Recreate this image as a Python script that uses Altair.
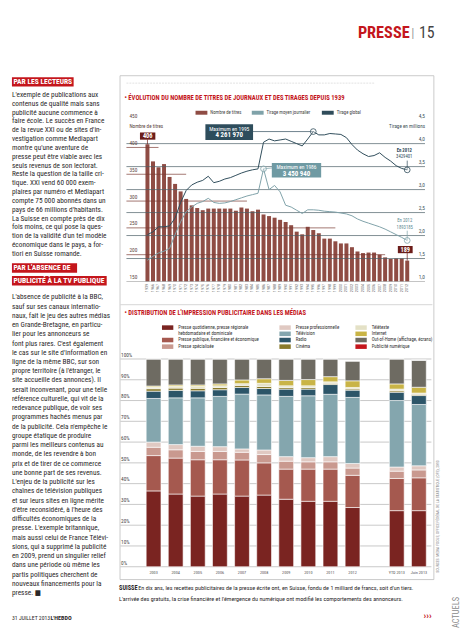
import altair as alt
import pandas as pd

# ---------------- data : chart 1 (titres et tirages) ----------------
years = ["1939", "1966", "1967", "1968", "1969", "1970", "1971", "1972", "1973", "1974",
         "1975", "1976", "1977", "1978", "1979", "1980", "1981", "1982", "1983", "1984",
         "1985", "1986", "1987", "1988", "1989", "1990", "1991", "1992", "1993", "1994",
         "1995", "1996", "1997", "1998", "1999", "2000", "2001", "2002", "2003", "2004",
         "2005", "2006", "2007", "2008", "2009", "2010", "2011", "2012"]
titres = [406, 374, 363, 369, 345, 332, 318, 304, 292, 287,
          283, 286, 286, 286, 286, 286, 282, 288, 286, 281,
          284, 275, 272, 269, 265, 261, 255, 243, 238, 252,
          246, 240, 230, 230, 225, 221, 221, 214, 206, 203,
          204, 204, 200, 195, 192, 193, 193, 189]
tirage_moyen = [1.46, 1.55, 1.62, 1.66, 1.72, 2.02, 2.30, 2.52, 2.62, 2.70,
                2.74, 2.81, 2.72, 2.70, 2.71, 2.74, 2.78, 2.82, 2.86, 2.89,
                2.92, 3.451, 3.00, 3.09, 2.95, 2.66, 2.62, 2.55, 2.48, 2.56,
                2.56, 2.55, 2.53, 2.52, 2.51, 2.49, 2.47, 2.43, 2.36, 2.31,
                2.27, 2.23, 2.19, 2.14, 2.08, 2.02, 1.96, 1.893]
tirage_global = [2.02, 2.08, 2.19, 2.19, 2.21, 2.38, 2.72, 2.98, 3.10, 3.16,
                 3.20, 3.29, 3.15, 3.18, 3.23, 3.26, 3.31, 3.36, 3.40, 3.43,
                 3.45, 4.03, 4.10, 4.06, 4.08, 4.10, 4.05, 4.00, 3.95, 4.10,
                 4.262, 4.19, 4.19, 4.22, 4.21, 4.20, 4.13, 3.98, 3.86, 3.78,
                 3.72, 3.74, 3.80, 3.70, 3.62, 3.52, 3.46, 3.429]
left_ticks = [150, 200, 250, 300, 350, 400, 450]
left_tick_labels = ["150", "200", "250", "300", "350", "400", "450"]
right_ticks = [1.0, 1.5, 2.0, 2.5, 3.0, 3.5, 4.0, 4.5]
right_tick_labels = ["1,0", "1,5", "2,0", "2,5", "3,0", "3,5", "4,0", "4,5"]
full_rule_ticks = [1.5, 2.0, 2.5, 3.0, 3.5, 4.0]
short_rule_ticks = [400, 350, 300, 250, 200]
short_rule_until = ["1967", "1972", "1983", "1999", "2008"]
series_names = ["Nombre de titres", "Tirage moyen journalier", "Tirage global"]

# ---------------- data : chart 2 (distribution publicitaire) ----------------
periods = ["2003", "2004", "2005", "2006", "2007", "2008", "2009", "2010", "2011", "2012",
           "YTD 2013", "Juin 2013"]
pct_ticks = [0, 10, 20, 30, 40, 50, 60, 70, 80, 90, 100]
pct_labels = ["0%", "10%", "20%", "30%", "40%", "50%", "60%", "70%", "80%", "90%", "100%"]
media = ["Presse quotidienne, presse régionale hebdomadaire et dominicale",
         "Presse publique, financière et économique",
         "Presse spécialisée",
         "Presse professionnelle",
         "Télévision",
         "Radio",
         "Cinéma",
         "Télétexte",
         "Internet",
         "Out-of-Home (affichage, écrans)",
         "Publicité numérique"]
presse_quotidienne = [36.5, 35.0, 34.0, 35.0, 34.0, 34.5, 32.5, 31.5, 31.5, 28.5, 27.0, 27.0]
presse_publique = [17.0, 17.3, 17.5, 16.5, 17.4, 15.5, 14.5, 15.5, 15.5, 15.5, 15.5, 15.8]
presse_specialisee = [4.0, 4.0, 4.0, 4.0, 3.7, 4.0, 3.8, 3.5, 3.5, 3.5, 3.5, 3.8]
presse_professionnelle = [2.5, 2.5, 2.5, 2.3, 1.6, 2.2, 2.2, 2.0, 2.5, 2.2, 2.0, 2.0]
television = [21.0, 22.5, 23.3, 24.2, 26.4, 26.5, 29.0, 29.8, 30.0, 31.8, 32.0, 29.5]
radio = [3.5, 3.6, 3.4, 3.2, 3.2, 3.1, 3.5, 3.2, 4.7, 3.5, 4.0, 4.3]
cinema = [1.2, 1.1, 1.2, 1.1, 1.0, 1.0, 0.8, 0.8, 0.6, 0.6, 0.7, 0.6]
teletexte = [0.8, 0.8, 0.9, 0.8, 0.8, 1.5, 0.8, 0.8, 0.7, 0.7, 0.8, 0.6]
internet = [0.5, 0.7, 0.7, 0.9, 1.8, 2.2, 2.6, 3.0, 2.5, 3.2, 2.5, 2.8]
out_of_home = [13.0, 12.5, 12.5, 12.0, 10.1, 9.5, 10.3, 9.9, 8.5, 9.5, 12.0, 13.0]
publicite_numerique = [0, 0, 0, 0, 0, 0, 0, 0, 0, 0, 0, 0]

# ---------------- page text ----------------
para1_lines = [
    "L'exemple de publications aux",
    "contenus de qualité mais sans",
    "publicité aucune commence à",
    "faire école. Le succès en France",
    "de la revue XXI ou de sites d'in-",
    "vestigation comme Mediapart",
    "montre qu'une aventure de",
    "presse peut être viable avec les",
    "seuls revenus de son lectorat.",
    "Reste la question de la taille cri-",
    "tique. XXI vend 60 000 exem-",
    "plaires par numéro et Mediapart",
    "compte 75 000 abonnés dans un",
    "pays de 66 millions d'habitants.",
    "La Suisse en compte près de dix",
    "fois moins, ce qui pose la ques-",
    "tion de la validité d'un tel modèle",
    "économique dans le pays, a for-",
    "tiori en Suisse romande.",
]
para2_lines = [
    "L'absence de publicité à la BBC,",
    "sauf sur ses canaux internatio-",
    "naux, fait le jeu des autres médias",
    "en Grande-Bretagne, en particu-",
    "lier pour les annonceurs se",
    "font plus rares. C'est également",
    "le cas sur le site d'information en",
    "ligne de la même BBC, sur son",
    "propre territoire (à l'étranger, le",
    "site accueille des annonces). Il",
    "serait inconvenant, pour une telle",
    "référence culturelle, qui vit de la",
    "redevance publique, de voir ses",
    "programmes hachés menus par",
    "de la publicité. Cela n'empêche le",
    "groupe étatique de produire",
    "parmi les meilleurs contenus au",
    "monde, de les revendre à bon",
    "prix et de tirer de ce commerce",
    "une bonne part de ses revenus.",
    "L'enjeu de la publicité sur les",
    "chaînes de télévision publiques",
    "et sur leurs sites en ligne mérite",
    "d'être reconsidéré, à l'heure des",
    "difficultés économiques de la",
    "presse. L'exemple britannique,",
    "mais aussi celui de France Télévi-",
    "sions, qui a supprimé la publicité",
    "en 2009, prend un singulier relief",
    "dans une période où même les",
    "partis politiques cherchent de",
    "nouveaux financements pour la",
    "presse. ■",
]
caption_lead = "SUISSE"
caption_line1 = ("En dix ans, les recettes publicitaires de la presse écrite ont, en Suisse, "
                 "fondu de 1 milliard de francs, soit d'un tiers.")
caption_line2 = ("L'arrivée des gratuits, la crise financière et l'émergence du numérique "
                 "ont modifié les comportements des annonceurs.")

# ---------------- styles ----------------
FONT = "Liberation Sans Narrow, Roboto Condensed, DejaVu Sans Condensed, Arial Narrow, sans-serif"
RED = "#c4161c"
BAR = "#8f4c44"
DARKRED = "#6b1d1a"
LIGHT = "#7fa2a9"
DARK = "#2f4c5a"
TXT = "#2b2829"
media_colors = ["#7a2421", "#a5594f", "#c9998f", "#e0c9c2", "#84a6ae", "#2c5568",
                "#8a7a2a", "#e4e1c6", "#c9b446", "#6e6b62", "#c4161c"]
series_colors = [BAR, LIGHT, DARK]

OFF = 8  # page margin


def P(v):
    return v - OFF


dummy = pd.DataFrame({"d": [0]})


def T(text, x, y, size, color=TXT, weight="normal", align="left", baseline="middle",
      angle=None, lh=None, font=FONT):
    props = dict(text=text, fontSize=size, color=color, fontWeight=weight, align=align,
                 baseline=baseline, font=font)
    if angle is not None:
        props["angle"] = angle
    if lh is not None:
        props["lineHeight"] = lh
    return alt.Chart(dummy).mark_text(**props).encode(x=alt.value(P(x)), y=alt.value(P(y)))


def R(x1, y1, x2, y2, fill=None, stroke=None, sw=0.8):
    props = dict(fill=fill if fill else "#ffffff", fillOpacity=1 if fill else 0)
    if stroke:
        props["stroke"] = stroke
        props["strokeWidth"] = sw
    return alt.Chart(dummy).mark_rect(**props).encode(
        x=alt.value(P(x1)), x2=alt.value(P(x2)), y=alt.value(P(y1)), y2=alt.value(P(y2)))


def H(x1, x2, y, color, sw=0.8, dash=None):
    props = dict(color=color, strokeWidth=sw)
    if dash:
        props["strokeDash"] = dash
    return alt.Chart(dummy).mark_rule(**props).encode(
        x=alt.value(P(x1)), x2=alt.value(P(x2)), y=alt.value(P(y)))


layers = []

# ---------------- page furniture ----------------
layers += [
    T("PRESSE", 362.5, 29, 16.5, RED, "bold"),
    T("|", 416.5, 29, 13, "#9a9a9a"),
    T("15", 424.5, 29, 16, "#444444"),
    R(12, 74, 74.5, 83.5, fill=RED),
    T("PAR LES LECTEURS", 13.5, 79, 7.6, "#ffffff", "bold"),
    T(para1_lines, 12, 92, 7.4, TXT, baseline="middle", lh=8.95),
    R(12, 262.5, 78, 272, fill=RED),
    T("PAR L'ABSENCE DE", 13.5, 267.5, 7.6, "#ffffff", "bold"),
    R(12, 275.5, 108, 285, fill=RED),
    T("PUBLICITÉ À LA TV PUBLIQUE", 13.5, 280.5, 7.6, "#ffffff", "bold"),
    T(para2_lines, 12, 297, 7.4, TXT, baseline="middle", lh=9.37),
    T("31 JUILLET 2013", 12, 622, 5.8, TXT),
    T("L'HEBDO", 51, 622, 6.2, TXT, "bold"),
    T("›››", 429, 620, 10, RED, "bold"),
    T("ACTUELS", 462, 632, 8.5, "#8a8a8a", align="left", angle=270),
    # frame of the graphic block
    R(121.5, 72.5, 439.5, 583, stroke="#bdbdbd", sw=0.8),
    H(128, 380, 80, "#d0d0d0", 0.6, [2, 1]),
    H(122, 438, 304.5, "#c4c4c4", 0.7),
    T(caption_lead, 120.5, 591.5, 6.4, TXT, "bold"),
    T(caption_line1, 140, 591.5, 6.2, TXT),
    T(caption_line2, 120.5, 603, 6.2, TXT),
]

# ---------------- chart 1 ----------------
df1 = pd.DataFrame({"year": years, "titres": titres, "moyen": tirage_moyen,
                    "global": tirage_global})
xs1 = alt.Scale(type="band", domain=years, range=[P(146.5), P(415.3)],
                paddingInner=0.28, paddingOuter=0.14)
ysL = alt.Scale(domain=[150, 450], range=[P(281), P(118)])
ysR = alt.Scale(domain=[1.0, 4.5], range=[P(281), P(118)])

layers.append(T("• ÉVOLUTION DU NOMBRE DE TITRES DE JOURNAUX ET DES TIRAGES DEPUIS 1939",
                126, 95, 6.7, RED, "bold"))

# legend of chart 1
leg1_x = [198, 255, 326]
for name, col, lx in zip(series_names, series_colors, leg1_x):
    layers.append(R(lx, 108, lx + 12, 112, fill=col))
    layers.append(T(name, lx + 15, 110.2, 4.8, "#444444"))

bars1 = alt.Chart(df1).mark_bar(color=BAR).encode(
    x=alt.X("year:N", scale=xs1, axis=None),
    y=alt.Y("titres:Q", scale=ysL, axis=None),
    y2=alt.datum(150),
)
layers.append(bars1)

# full width rules (right axis) and short rules (left axis)
layers.append(alt.Chart(pd.DataFrame({"t": full_rule_ticks})).mark_rule(
    color="#4a5e66", strokeWidth=0.7).encode(
    x=alt.value(P(128)), x2=alt.value(P(430.5)),
    y=alt.Y("t:Q", scale=ysR, axis=None)))
layers.append(alt.Chart(pd.DataFrame({"t": short_rule_ticks, "until": short_rule_until})).mark_rule(
    color="#7a3a33", strokeWidth=0.7).encode(
    x=alt.X("until:N", scale=xs1, axis=None), x2=alt.value(P(128)),
    y=alt.Y("t:Q", scale=ysL, axis=None)))
layers.append(H(128, 430.5, 281, "#9a9a9a", 0.6))

# axis labels
layers.append(alt.Chart(pd.DataFrame({"t": left_ticks, "l": left_tick_labels})).mark_text(
    align="left", baseline="bottom", dy=-1.5, fontSize=5.4, color="#5b4440", font=FONT).encode(
    x=alt.value(P(131)), y=alt.Y("t:Q", scale=ysL, axis=None), text="l:N"))
layers.append(alt.Chart(pd.DataFrame({"t": right_ticks, "l": right_tick_labels})).mark_text(
    align="right", baseline="bottom", dy=-1.5, fontSize=5.4, color="#3c4f57", font=FONT).encode(
    x=alt.value(P(430.5)), y=alt.Y("t:Q", scale=ysR, axis=None), text="l:N"))
layers.append(T("Nombre de titres", 131, 123, 5.2, "#5b4440"))
layers.append(T("Tirage en millions", 430.5, 123, 5.2, "#3c4f57", align="right"))

# year labels
layers.append(alt.Chart(df1).mark_text(
    angle=270, align="right", baseline="middle", fontSize=4.2, color="#666666", font=FONT).encode(
    x=alt.X("year:N", scale=xs1, axis=None), y=alt.value(P(283.5)), text="year:N"))

# lines
layers.append(alt.Chart(df1).mark_line(color=LIGHT, strokeWidth=1.0).encode(
    x=alt.X("year:N", scale=xs1, axis=None), y=alt.Y("moyen:Q", scale=ysR, axis=None)))
layers.append(alt.Chart(df1).mark_line(color=DARK, strokeWidth=1.0).encode(
    x=alt.X("year:N", scale=xs1, axis=None), y=alt.Y("global:Q", scale=ysR, axis=None)))

# annotations (points taken from the series)
i_g = tirage_global.index(max(tirage_global))
i_m = tirage_moyen.index(max(tirage_moyen))
last = len(years) - 1
pt_gmax = pd.DataFrame({"year": [years[i_g]], "v": [tirage_global[i_g]]})
pt_mmax = pd.DataFrame({"year": [years[i_m]], "v": [tirage_moyen[i_m]]})
pt_glast = pd.DataFrame({"year": [years[last]], "v": [tirage_global[last]]})
pt_mlast = pd.DataFrame({"year": [years[last]], "v": [tirage_moyen[last]]})
pt_tfirst = pd.DataFrame({"year": [years[0]], "v": [titres[0]]})
pt_tlast = pd.DataFrame({"year": [years[last]], "v": [titres[last]]})

xe = alt.X("year:N", scale=xs1, axis=None)
layers += [
    alt.Chart(pt_gmax).mark_rule(color=DARK, strokeWidth=0.7).encode(
        x=xe, x2=alt.value(P(256)), y=alt.Y("v:Q", scale=ysR, axis=None)),
    alt.Chart(pt_mmax).mark_rule(color=LIGHT, strokeWidth=0.7).encode(
        x=xe, x2=alt.value(P(275.5)), y=alt.Y("v:Q", scale=ysR, axis=None), y2=alt.value(P(166))),
    alt.Chart(pt_glast).mark_rule(color=DARK, strokeWidth=0.7).encode(
        x=xe, y=alt.Y("v:Q", scale=ysR, axis=None), y2=alt.value(P(158.5))),
    alt.Chart(pt_mlast).mark_rule(color=LIGHT, strokeWidth=0.7).encode(
        x=xe, y=alt.Y("v:Q", scale=ysR, axis=None), y2=alt.value(P(229.5))),
    alt.Chart(pt_tfirst).mark_rule(color=DARKRED, strokeWidth=0.7).encode(
        x=xe, y=alt.Y("v:Q", scale=ysL, axis=None), y2=alt.value(P(137))),
    alt.Chart(pt_tlast).mark_rule(color=DARKRED, strokeWidth=0.7).encode(
        x=xe, y=alt.Y("v:Q", scale=ysL, axis=None), y2=alt.value(P(252))),
]
for dfp, col in [(pt_gmax, DARK), (pt_glast, DARK), (pt_mmax, LIGHT), (pt_mlast, LIGHT)]:
    layers.append(alt.Chart(dfp).mark_point(shape="circle", filled=True, fill="#ffffff",
                                            fillOpacity=0.3, stroke=col, strokeWidth=0.8,
                                            size=34).encode(
        x=xe, y=alt.Y("v:Q", scale=ysR, axis=None)))

layers += [
    R(208, 121.7, 256.3, 137.7, fill="#2e4d5c"),
    T("Maximum en 1995", 232.2, 126, 5.6, "#ffffff", align="center"),
    T("4 261 970", 232.2, 133, 7, "#ffffff", "bold", align="center"),
    R(275.3, 161, 325.3, 175.7, fill="#6f9aa3"),
    T("Maximum en 1986", 300.3, 165.2, 5.6, "#ffffff", align="center"),
    T("3 450 940", 300.3, 171.8, 7, "#ffffff", "bold", align="center"),
    T("En 2012", 409.5, 149, 4.8, DARK, "bold", align="center"),
    T("3429401", 409.5, 155.3, 4.8, DARK, align="center"),
    T("En 2012", 410, 220, 4.8, "#5d8a93", align="center"),
    T("1893185", 410, 226.5, 4.8, "#5d8a93", align="center"),
    R(141.7, 130, 157.3, 137.3, fill=DARKRED),
    T(str(titres[0]), 149.5, 133.8, 6.4, "#ffffff", "bold", align="center"),
    R(403, 245, 418, 252.3, fill=DARKRED),
    T(str(titres[last]), 410.5, 248.8, 6.4, "#ffffff", "bold", align="center"),
]

# ---------------- chart 2 ----------------
series2 = [presse_quotidienne, presse_publique, presse_specialisee, presse_professionnelle,
           television, radio, cinema, teletexte, internet, out_of_home, publicite_numerique]
rows = []
for k, (name, vals) in enumerate(zip(media, series2)):
    for per, v in zip(periods, vals):
        rows.append({"period": per, "media": name, "value": v, "k": k})
df2 = pd.DataFrame(rows)
x2_domain = periods[:10] + [" "] + periods[10:]
xs2 = alt.Scale(type="band", domain=x2_domain, range=[P(144.3), P(435.5)],
                paddingInner=0.33, paddingOuter=0.165)
ys2 = alt.Scale(domain=[0, 100], range=[P(570), P(359.5)])

layers.append(T("• DISTRIBUTION DE L'IMPRESSION PUBLICITAIRE DANS LES MÉDIAS",
                126, 313.3, 6.7, RED, "bold"))

# legend of chart 2
col_x = [164, 283, 360]
row_y = [327.7, 334, 340.3, 347]
slots = [(0, 0), (0, 2), (0, 3), (1, 0), (1, 1), (1, 2), (1, 3), (2, 0), (2, 1), (2, 2), (2, 3)]
for name, col, (c, r) in zip(media, media_colors, slots):
    sx, sy = col_x[c], row_y[r]
    layers.append(R(sx, sy - 2.3, sx + 11.5, sy + 2.3, fill=col))
    if name.startswith("Presse quotidienne"):
        label = ["Presse quotidienne, presse régionale", "hebdomadaire et dominicale"]
        layers.append(T(label, sx + 16.5, sy, 4.9, "#333333", baseline="middle", lh=6.3))
    else:
        layers.append(T(name, sx + 16.5, sy, 4.9, "#333333"))

layers.append(alt.Chart(pd.DataFrame({"t": pct_ticks})).mark_rule(
    color="#a3a3a3", strokeWidth=0.6).encode(
    x=alt.value(P(122)), x2=alt.value(P(437)), y=alt.Y("t:Q", scale=ys2, axis=None)))

bars2 = alt.Chart(df2).mark_bar(stroke="#ffffff", strokeWidth=0.6).encode(
    x=alt.X("period:N", scale=xs2, axis=None),
    y=alt.Y("value:Q", scale=ys2, axis=None, stack="zero"),
    color=alt.Color("media:N", scale=alt.Scale(domain=media, range=media_colors), legend=None),
    order=alt.Order("k:Q", sort="ascending"),
)
layers.append(bars2)

layers.append(alt.Chart(pd.DataFrame({"t": pct_ticks, "l": pct_labels})).mark_text(
    align="left", baseline="bottom", dy=-1.2, fontSize=5.4, color="#444444", font=FONT).encode(
    x=alt.value(P(122.5)), y=alt.Y("t:Q", scale=ys2, axis=None), text="l:N"))
layers.append(alt.Chart(pd.DataFrame({"period": periods})).mark_text(
    align="center", baseline="middle", fontSize=4.3, color="#555555", font=FONT).encode(
    x=alt.X("period:N", scale=xs2, axis=None), y=alt.value(P(576.5)), text="period:N"))
layers.append(T("SOURCES: MEDIA FOCUS, OFFICE FÉDÉRAL DE LA STATISTIQUE (OFS), 2013",
                443.5, 576, 3.8, "#777777", angle=270))

chart = alt.layer(*layers).resolve_scale(
    x="independent", y="independent", color="independent"
).properties(
    width=460, height=624, padding=0,
    autosize=alt.AutoSizeParams(type="none"),
    background="#ffffff",
).configure_view(stroke=None)

chart.save("out.html", embed_options={"renderer": "svg", "actions": False})
